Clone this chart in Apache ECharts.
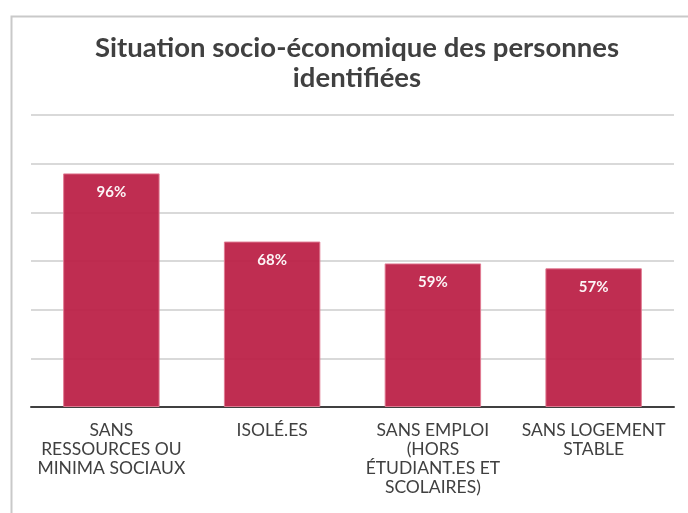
<!DOCTYPE html>
<html><head><meta charset="utf-8">
<script src="https://cdn.jsdelivr.net/npm/echarts@6/dist/echarts.min.js"></script>
<style>html,body{margin:0;padding:0;background:#fff}#c{width:688px;height:513px}</style>
</head><body><div id="c"></div>
<script>
const categories = ["SANS\nRESSOURCES OU\nMINIMA SOCIAUX", "ISOLÉ.ES", "SANS EMPLOI\n(HORS\nÉTUDIANT.ES ET\nSCOLAIRES)", "SANS LOGEMENT\nSTABLE"];
const values = [96, 68, 59, 57];
const titleText = "Situation socio-économique des personnes\nidentifiées";
const FONT = "Lato, 'Open Sans', sans-serif";
const chart = echarts.init(document.getElementById('c'), null, {renderer: 'canvas'});
chart.setOption({
  animation: false,
  backgroundColor: '#fff',
  graphic: [{
    type: 'rect', left: 9, top: 14, shape: {x: 0, y: 0, width: 700, height: 520},
    style: {fill: 'none', stroke: '#c9c9c9', lineWidth: 2}, silent: true
  }],
  title: {
    text: titleText, left: 352, top: 28, textAlign: 'center',
    textStyle: {fontFamily: FONT, fontWeight: 'bold', fontSize: 27.5, color: '#404040', lineHeight: 30}
  },
  grid: {left: 31, right: 14, top: 115, bottom: 106},
  xAxis: {
    type: 'category', data: categories,
    axisLine: {lineStyle: {color: '#404040', width: 2}},
    axisTick: {show: false},
    axisLabel: {interval: 0, margin: 14, fontFamily: FONT, fontSize: 17.5, color: '#404040', lineHeight: 19}
  },
  yAxis: {
    type: 'value', min: 0, max: 120, interval: 20,
    axisLabel: {show: false}, axisLine: {show: false}, axisTick: {show: false},
    splitLine: {lineStyle: {color: '#d9d9d9', width: 2}}
  },
  series: [{
    type: 'bar', data: values, barWidth: '60%',
    itemStyle: {color: '#BC2248', opacity: 0.95, borderColor: '#e07a92', borderWidth: 1},
    label: {show: true, position: 'insideTop', distance: 11, formatter: '{c}%',
      fontFamily: FONT, fontWeight: 'bold', fontSize: 15, color: '#fff'}
  }]
});
</script></body></html>
